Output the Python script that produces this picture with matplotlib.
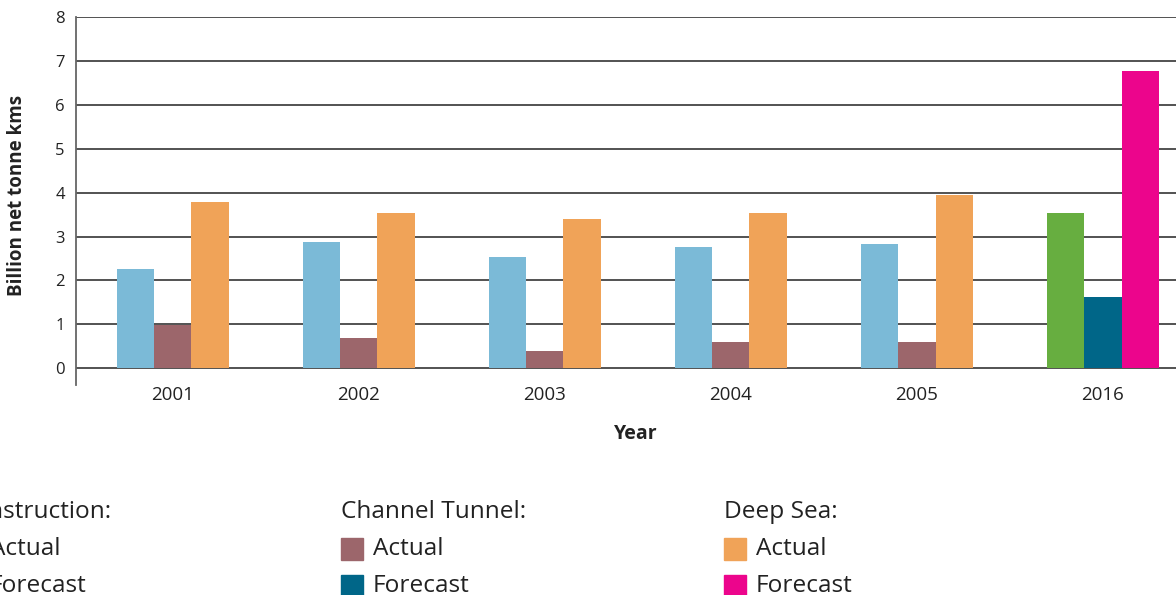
import matplotlib.pyplot as plt
from matplotlib.patches import Rectangle
import numpy as np

plt.rcParams['font.family'] = ['Open Sans', 'DejaVu Sans']

# Data
years = ["2001", "2002", "2003", "2004", "2005", "2016"]
construction = [2.26, 2.87, 2.53, 2.76, 2.83, 3.53]
channel_tunnel = [0.98, 0.68, 0.39, 0.59, 0.59, 1.62]
deep_sea = [3.78, 3.53, 3.40, 3.53, 3.94, 6.77]
is_forecast = [False, False, False, False, False, True]

groups = ["Construction", "Channel Tunnel", "Deep Sea"]
actual_colors = ["#7bbad7", "#9c666b", "#f0a358"]
forecast_colors = ["#67ae40", "#006688", "#ec058c"]

W, H = 1176, 595
fig = plt.figure(figsize=(W / 100, H / 100), dpi=100)
# axes runs past the right edge of the figure
ax = fig.add_axes([76 / W, 1 - 385 / H, 1120 / W, 368 / H])

x = np.arange(len(years))
bw = 0.2
for i, vals in enumerate([construction, channel_tunnel, deep_sea]):
    cols = [forecast_colors[i] if f else actual_colors[i] for f in is_forecast]
    ax.bar(x + (i - 1) * bw, vals, width=bw, color=cols, zorder=3)

ax.set_xlim(-0.52, len(years) - 0.5)
ax.set_ylim(-0.38, 8)
ax.set_yticks(range(0, 9))
for v in range(0, 9):
    ax.axhline(v, color="#444444", lw=1.3, zorder=1)
ax.set_xticks(x)
ax.set_xticklabels(years)
ax.tick_params(axis="both", length=0, colors="#222222")
ax.tick_params(axis="x", pad=1, labelsize=13.5)
ax.tick_params(axis="y", pad=8, labelsize=12)
for s in ["top", "right", "bottom"]:
    ax.spines[s].set_visible(False)
ax.spines["left"].set_color("#666666")
ax.spines["left"].set_linewidth(1.3)

ax.set_xlabel("Year", fontsize=14, fontweight="bold", color="#222222", labelpad=14)
fig.text(17 / W, 1 - 195 / H, "Billion net tonne kms", rotation=90, fontsize=13.5,
         fontweight="bold", color="#222222", ha="center", va="center")

# Legend columns
col_x = [-42, 341, 724]
for g, cx, ca, cf in zip(groups, col_x, actual_colors, forecast_colors):
    fig.text(cx / W, 1 - 512 / H, g + ":", fontsize=17.6, color="#222222", va="center")
    for label, c, yy in [("Actual", ca, 549), ("Forecast", cf, 586)]:
        fig.patches.append(Rectangle((cx / W, 1 - (yy + 11) / H), 22 / W, 22 / H,
                                     transform=fig.transFigure, color=c))
        fig.text((cx + 32) / W, 1 - yy / H, label, fontsize=17.6, color="#222222", va="center")

fig.savefig("out.png", dpi=100)
